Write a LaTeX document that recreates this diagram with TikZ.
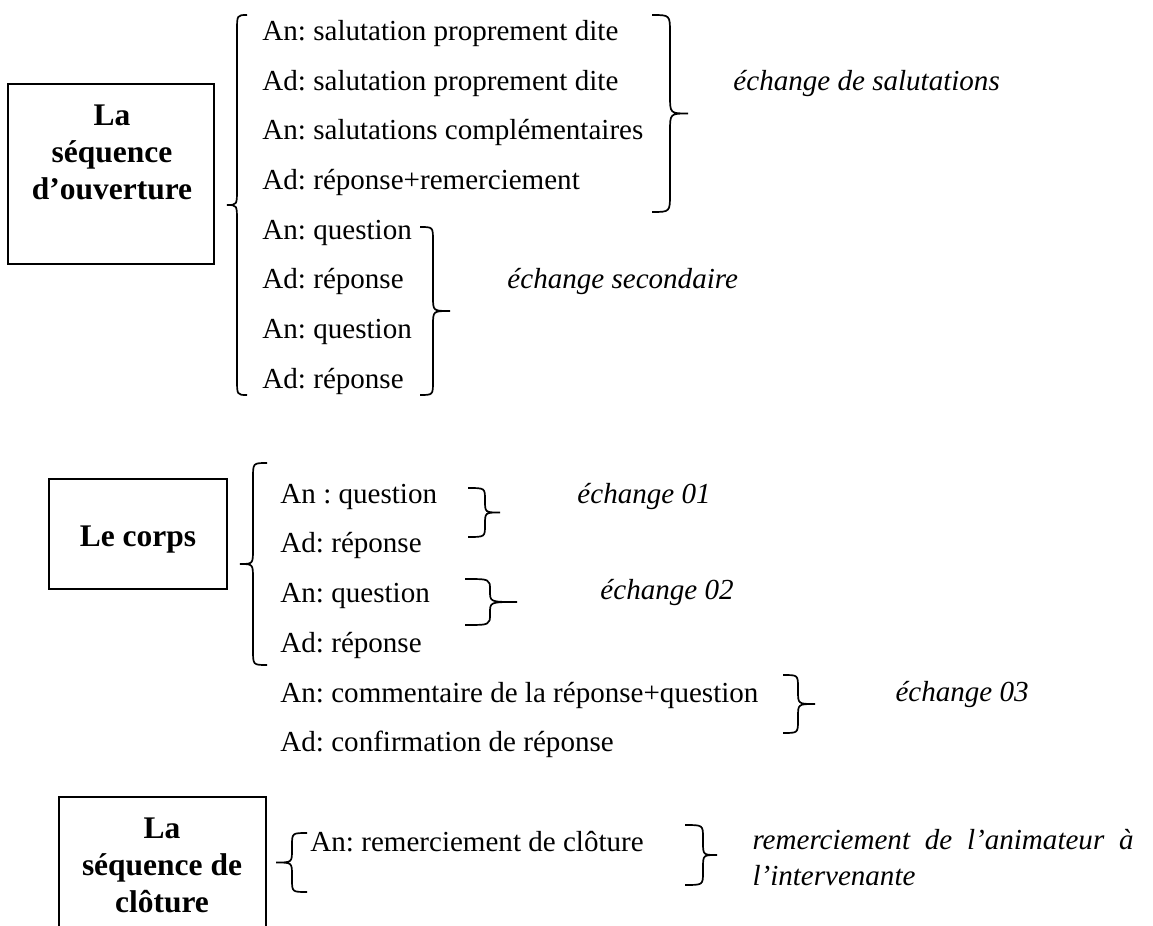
\documentclass[tikz,border=0pt]{standalone}
\usepackage{fontspec}
\setmainfont{Liberation Serif}
\usepackage{xcolor}
\definecolor{Ink}{HTML}{000000}
\usepackage{tikz}
\usetikzlibrary{positioning}
\tikzset{
  seqbox/.style={draw=Ink,line width=.8pt,inner sep=0pt},
  seqtitle/.style={align=center,text=Ink,font=\fontsize{13}{15.3}\selectfont\bfseries,inner sep=0pt},
  replique/.style={anchor=base west,text=Ink,font=\fontsize{12}{14.5}\selectfont\frenchspacing,inner sep=0pt},
  echg/.style={replique,font=\fontsize{12}{14.8}\selectfont\itshape\frenchspacing},
  bracestroke/.style={draw=Ink,line width=.7pt}
}
% ends x, stem x, tip x, top y, bottom y, curl
\newcommand{\wordbrace}[6]{%
  \draw[bracestroke] (#1,#4) .. controls (#2,#4) .. (#2,{#4+#6})
    -- (#2,{(#4+#5)/2-#6}) .. controls (#2,{(#4+#5)/2}) .. (#3,{(#4+#5)/2})
    .. controls (#2,{(#4+#5)/2}) .. (#2,{(#4+#5)/2+#6})
    -- (#2,{#5-#6}) .. controls (#2,#5) .. (#1,#5);}

\begin{document}
\begin{tikzpicture}[x=0.413pt,y=-0.413pt]
\useasboundingbox (0,0) rectangle (1153,926);

\node[seqbox,minimum width=85.1pt,minimum height=74.3pt] (ouvbox) at (111,174) {};
\node[seqtitle,anchor=north] (ouvtitle) at (112,104) {La\\séquence\\d’ouverture};
\node[seqbox,minimum width=73.5pt,minimum height=45.4pt] (corpsbox) at (138,534) {};
\node[seqtitle,anchor=base] (corpstitle) at (138,546) {Le corps};
\draw[seqbox] (59,926) |- (266,797) -- (266,926);
\node[seqtitle,anchor=north] (clotitle) at (162,817) {La\\séquence de\\clôture};

\node[replique] (o1) at (262,41) {An: salutation proprement dite};
\node[replique] (o2) at (262,91) {Ad: salutation proprement dite};
\node[replique] (o3) at (262,140) {An: salutations complémentaires};
\node[replique] (o4) at (262,190) {Ad: réponse+remerciement};
\node[replique] (o5) at (262,240) {An: question};
\node[replique] (o6) at (262,289) {Ad: réponse};
\node[replique] (o7) at (262,339) {An: question};
\node[replique] (o8) at (262,389) {Ad: réponse};

\node[replique] (c1) at (280,503) {An : question};
\node[replique] (c2) at (280,552) {Ad: réponse};
\node[replique] (c3) at (280,602) {An: question};
\node[replique] (c4) at (280,652) {Ad: réponse};
\node[replique] (c5) at (280,702) {An: commentaire de la réponse+question};
\node[replique] (c6) at (280,751) {Ad: confirmation de réponse};

\node[replique] (f1) at (310,851) {An: remerciement de clôture};

\node[echg] (salut) at (733,91) {échange de salutations};
\node[echg] (second) at (507,289) {échange secondaire};
\node[echg] (ech1) at (577,503) {échange 01};
\node[echg] (ech2) at (600,599) {échange 02};
\node[echg] (ech3) at (895,701) {échange 03};
\node[echg,anchor=north west,text width=157.4pt,align=justify] (remer) at (752,829)
  {remerciement de l’animateur à l’intervenante};

\wordbrace{247}{237}{227}{15}{395}{16}
\wordbrace{652}{670}{688}{15}{212}{18}
\wordbrace{420}{433}{450}{227}{395}{14}
\wordbrace{267}{253}{240}{463}{665}{15}
\wordbrace{468}{485}{500}{488}{537}{12}
\wordbrace{465}{490}{517}{579}{625}{11}
\wordbrace{783}{798}{815}{675}{733}{13}
\wordbrace{307}{292}{276}{833}{892}{13}
\wordbrace{685}{703}{717}{825}{885}{13}
\end{tikzpicture}
\end{document}
